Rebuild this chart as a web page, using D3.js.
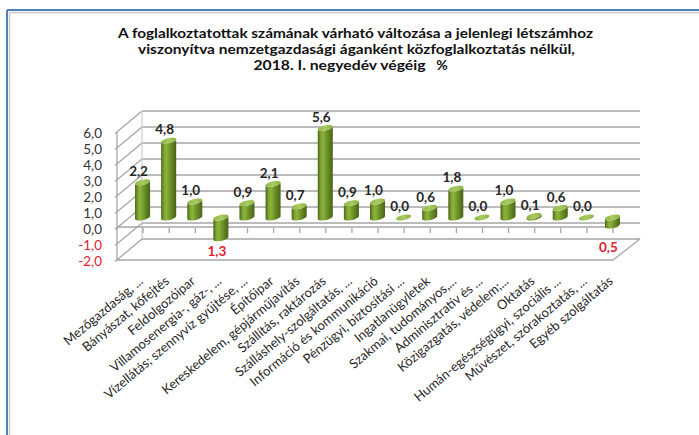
<!DOCTYPE html>
<html>
<head>
<meta charset="utf-8">
<script src="https://cdn.jsdelivr.net/npm/d3@7"></script>
<style>
html,body{margin:0;padding:0;background:#fff;}
svg{display:block;font-family:Lato,"Open Sans",sans-serif;}
</style>
</head>
<body>
<svg id="chart" width="699" height="435"></svg>
<script>
const titleLines = [
  "A foglalkoztatottak számának várható változása a jelenlegi létszámhoz",
  "viszonyítva nemzetgazdasági áganként közfoglalkoztatás nélkül,",
  "2018. I. negyedév végéig"
];
const titleUnit = "%";
const categories = [
  "Mezőgazdaság, ...",
  "Bányászat,  kőfejtés",
  "Feldolgozóipar",
  "Villamosenergia-, gáz-, ...",
  "Vízellátás; szennyvíz gyűjtése, ...",
  "Építőipar",
  "Kereskedelem, gépjárműjavítás",
  "Szállítás, raktározás",
  "Szálláshely-szolgáltatás, ...",
  "Információ és kommunikáció",
  "Pénzügyi, biztosítási ...",
  "Ingatlanügyletek",
  "Szakmai, tudományos,...",
  "Adminisztratív és ...",
  "Közigazgatás, védelem;...",
  "Oktatás",
  "Humán-egészségügyi, szociális ...",
  "Művészet, szórakoztatás, ...",
  "Egyéb szolgáltatás"
];
const values = [2.2, 4.8, 1.0, -1.3, 0.9, 2.1, 0.7, 5.6, 0.9, 1.0, 0.0, 0.6, 1.8, 0.0, 1.0, 0.1, 0.6, 0.0, -0.5];
const yTicks = [-2, -1, 0, 1, 2, 3, 4, 5, 6];

const svg = d3.select("#chart");
const locale = d3.formatLocale({decimal: ",", thousands: " ", grouping: [3], currency: ["", ""], minus: "-"});
const fmt = locale.format(".1f");

// frame
svg.append("line").attr("x1", 7).attr("y1", 10).attr("x2", 699).attr("y2", 10).attr("stroke", "#4f81bd").attr("stroke-width", 2);
svg.append("line").attr("x1", 7).attr("y1", 10).attr("x2", 7).attr("y2", 435).attr("stroke", "#4f81bd").attr("stroke-width", 2);
svg.append("line").attr("x1", 10).attr("y1", 12.5).attr("x2", 699).attr("y2", 12.5).attr("stroke", "#c8c8c8").attr("stroke-width", 1.5);
svg.append("line").attr("x1", 9.5).attr("y1", 12.5).attr("x2", 9.5).attr("y2", 435).attr("stroke", "#c8c8c8").attr("stroke-width", 1.5);

// title
const tW = [475, 437, 172];
const tX = [355.5, 356.5, 339.5];
titleLines.forEach((t, i) => {
  svg.append("text").attr("x", tX[i]).attr("y", 38 + i * 16)
    .attr("text-anchor", "middle").attr("font-size", 14).attr("font-weight", "bold")
    .attr("fill", "#111").attr("textLength", tW[i]).attr("lengthAdjust", "spacingAndGlyphs").text(t);
});
svg.append("text").attr("x", 442).attr("y", 70).attr("text-anchor", "middle")
  .attr("font-size", 14).attr("font-weight", "bold").attr("fill", "#111").text(titleUnit);

// geometry
const DX = 25, DY = -21;
const x = d3.scaleBand().domain(categories).range([117, 613]);
const y = d3.scaleLinear().domain([-2, 6]).range([260, 132]);
const xL = 117, xR = 613;

const grid = svg.append("g").attr("stroke", "#a6a6a6").attr("stroke-width", 1.3).attr("fill", "none");
yTicks.forEach(v => {
  grid.append("line").attr("x1", xL + DX).attr("x2", xR + DX + 2)
    .attr("y1", y(v) + DY).attr("y2", y(v) + DY);
  grid.append("line").attr("x1", xL - 2).attr("y1", y(v) + 1.5).attr("x2", xL + DX).attr("y2", y(v) + DY);
});
grid.append("line").attr("x1", xL).attr("x2", xL).attr("y1", y(6)).attr("y2", y(-2));
grid.append("line").attr("x1", xL + DX).attr("x2", xL + DX).attr("y1", y(6) + DY).attr("y2", y(-2) + DY).attr("stroke", "#d0d0d0");
grid.append("line").attr("x1", xL).attr("x2", xR).attr("y1", y(-2)).attr("y2", y(-2));
grid.append("line").attr("x1", xR).attr("y1", y(-2)).attr("x2", xR + DX + 2).attr("y2", y(-2) + DY);
grid.append("line").attr("x1", xL).attr("x2", xR + 5).attr("y1", y(0) - 1).attr("y2", y(0) - 1);
categories.forEach((c, i) => {
  if (i === 0) return;
  grid.append("line").attr("x1", x(c)).attr("x2", x(c)).attr("y1", y(0)).attr("y2", y(0) + 5);
});
grid.append("line").attr("x1", xR).attr("x2", xR).attr("y1", y(0)).attr("y2", y(0) + 5);

// y axis labels
const yAxis = d3.axisLeft(y).tickValues(yTicks).tickSize(0).tickPadding(15).tickFormat(d => fmt(d));
const ya = svg.append("g").attr("transform", `translate(${xL},1.5)`).call(yAxis);
ya.select(".domain").remove();
ya.selectAll("text").attr("font-size", 13.5).attr("font-family", "Lato, sans-serif")
  .attr("fill", d => d < 0 ? "#e3192e" : "#333");

// gradients
const defs = svg.append("defs");
const gb = defs.append("linearGradient").attr("id", "body").attr("x1", 0).attr("x2", 1).attr("y1", 0).attr("y2", 0);
[[0, "#4a6516"], [0.2, "#7ea432"], [0.35, "#8cb33d"], [0.6, "#6f9326"], [1, "#48621a"]]
  .forEach(s => gb.append("stop").attr("offset", s[0]).attr("stop-color", s[1]));
const gt = defs.append("linearGradient").attr("id", "cap").attr("x1", 0).attr("x2", 1).attr("y1", 0).attr("y2", 0);
[[0, "#8fb547"], [0.5, "#a9cb62"], [1, "#8cb040"]]
  .forEach(s => gt.append("stop").attr("offset", s[0]).attr("stop-color", s[1]));

// bars (cylinders at mid depth)
const r = 6.6, kx = 3.6, ky = -3.0;
const t0 = Math.atan2(kx, r);
function pt(cx, cy, t) { return [cx + r * Math.cos(t) + kx * Math.sin(t), cy + ky * Math.sin(t)]; }
const bars = svg.append("g");
categories.forEach((c, i) => {
  const v = values[i];
  const cx = x(c) + x.bandwidth() / 2 + DX / 2;
  const y0 = y(0) + DY / 2;
  const yv = y(v) + DY / 2;
  const yTop = Math.min(y0, yv), yBot = Math.max(y0, yv);
  const pts = [];
  const N = 24;
  for (let k = 0; k <= N; k++) { const t = t0 - Math.PI * k / N; pts.push(pt(cx, yBot, t)); }
  for (let k = 0; k <= N; k++) { const t = t0 - Math.PI + Math.PI * k / N; pts.push(pt(cx, yTop, t)); }
  bars.append("path").attr("d", d3.line()(pts) + "Z").attr("fill", "url(#body)");
  const cap = [];
  for (let k = 0; k <= 40; k++) cap.push(pt(cx, yTop, 2 * Math.PI * k / 40));
  bars.append("path").attr("d", d3.line()(cap) + "Z").attr("fill", "url(#cap)");
  const neg = v < 0;
  const ly = neg ? Math.max(yBot + 13, y(0) + 19) : yTop - 11;
  bars.append("text").attr("x", cx - 4).attr("y", ly).attr("dy", "0.35em")
    .attr("text-anchor", "middle").attr("font-size", 13.5).attr("font-weight", "bold")
    .attr("fill", neg ? "#e3192e" : "#262626").text(fmt(Math.abs(v)));
});

// category labels
const cl = svg.append("g");
categories.forEach((c, i) => {
  const ex = x(c) + x.bandwidth() / 2 + 11, ey = 279;
  cl.append("text").attr("transform", `translate(${ex},${ey}) rotate(-40)`)
    .attr("text-anchor", "end").attr("dy", "0.35em").attr("font-size", 13)
    .attr("fill", "#1e1e1e").text(c);
});
</script>
</body>
</html>
